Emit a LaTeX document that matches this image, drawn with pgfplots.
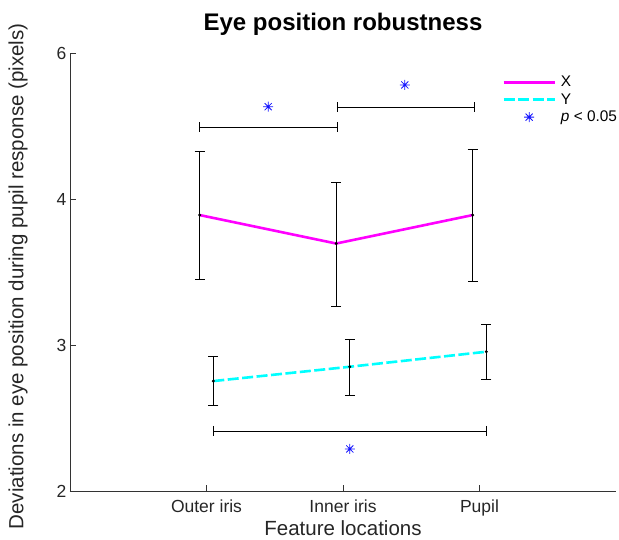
\documentclass[border=0pt]{standalone}
\usepackage{fontspec}
\setmainfont{Liberation Sans}
\usepackage{pgfplots}
\pgfplotsset{compat=1.18}
\definecolor{mag}{RGB}{255,0,255}
\definecolor{cy}{RGB}{0,255,255}
\definecolor{starblue}{RGB}{20,20,255}
\pgfdeclareplotmark{mstar}{%
 \pgfpathmoveto{\pgfqpoint{-\pgfplotmarksize}{0pt}}\pgfpathlineto{\pgfqpoint{\pgfplotmarksize}{0pt}}%
 \pgfpathmoveto{\pgfqpoint{0pt}{-\pgfplotmarksize}}\pgfpathlineto{\pgfqpoint{0pt}{\pgfplotmarksize}}%
 \pgfpathmoveto{\pgfqpoint{-0.7071\pgfplotmarksize}{-0.7071\pgfplotmarksize}}\pgfpathlineto{\pgfqpoint{0.7071\pgfplotmarksize}{0.7071\pgfplotmarksize}}%
 \pgfpathmoveto{\pgfqpoint{-0.7071\pgfplotmarksize}{0.7071\pgfplotmarksize}}\pgfpathlineto{\pgfqpoint{0.7071\pgfplotmarksize}{-0.7071\pgfplotmarksize}}%
 \pgfusepathqstroke}
\pgfplotsset{
  longline/.style={legend image code/.code={\draw[##1] (0pt,0pt) -- (51pt,0pt);}},
  midmark/.style={legend image code/.code={\draw[##1] plot coordinates {(25.5pt,0pt)};}},
}
\begin{document}
\begin{tikzpicture}
\begin{axis}[name=ax, at={(0,0)}, anchor=south west,
  scale only axis, width=546pt, height=438pt,
  xmin=0, xmax=4, ymin=2, ymax=5, clip=false,
  axis x line*=bottom, axis y line*=left,
  axis line style={black!80, line width=0.6pt},
  tick style={black!80, line width=0.6pt},
  tick align=inside, major tick length=6pt,
  xtick={1,2,3}, xticklabels={Outer iris,Inner iris,Pupil},
  ytick={2,3,4,5}, yticklabels={2,3,4,6},
  ticklabel style={font=\fontsize{17.5}{20}\selectfont, text=black!85},
  xticklabel style={yshift=-5pt},
  title={Eye position robustness},
  title style={font=\bfseries\fontsize{24}{28}\selectfont, at={(axis description cs:0.5,1.0525)}, anchor=center},
  xlabel={Feature locations},
  xlabel style={font=\fontsize{20.5}{24}\selectfont, text=black!85, at={(axis description cs:0.5,-0.0845)}, anchor=center},
  ylabel={Deviations in eye position during pupil response (pixels)},
  ylabel style={font=\fontsize{20.5}{24}\selectfont, text=black!85, at={(axis description cs:-0.095,0.49)}, anchor=center},
  legend style={at={(axis description cs:0.7915,0.952)}, anchor=north west, draw=none, fill=none, inner sep=0pt, row sep=1.3pt,
    font=\fontsize{15.4}{18}\selectfont, nodes={inner sep=2pt},
    /tikz/every odd column/.append style={column sep=3pt}},
  legend cell align=left,
]
% X line
\addplot[mag, line width=2.6pt, longline]
  coordinates {(0.95,3.890) (1.95,3.695) (2.95,3.890)};
\addlegendentry{X}
% Y line
\addplot[cy, line width=2.6pt, dash pattern=on 11pt off 3.5pt, longline]
  coordinates {(1.05,2.753) (2.05,2.851) (3.05,2.954)};
\addlegendentry{Y}
% significance stars
\addplot[only marks, starblue, mark=mstar, mark size=5pt, line width=0.8pt, midmark]
  coordinates {(1.452,4.632) (2.453,4.781) (2.05,2.288)};
\addlegendentry{\textit{p} < 0.05}
% error bars X
\addplot[forget plot, only marks, black, mark=*, mark size=1.3pt,
  error bars/.cd, y dir=both, y explicit,
  error bar style={black, line width=0.7pt},
  error mark options={rotate=90, mark size=5pt, black, line width=0.7pt}]
  coordinates {
  (0.95,3.890) += (0,0.439) -= (0,0.440)
  (1.95,3.695) += (0,0.417) -= (0,0.428)
  (2.95,3.890) += (0,0.452) -= (0,0.456)
  };
% error bars Y
\addplot[forget plot, only marks, black, mark=*, mark size=1.3pt,
  error bars/.cd, y dir=both, y explicit,
  error bar style={black, line width=0.7pt},
  error mark options={rotate=90, mark size=5pt, black, line width=0.7pt}]
  coordinates {
  (1.05,2.753) += (0,0.167) -= (0,0.164)
  (2.05,2.851) += (0,0.190) -= (0,0.193)
  (3.05,2.954) += (0,0.185) -= (0,0.187)
  };
% brackets
\addplot[forget plot, black, line width=0.7pt, mark=|, mark size=5pt]
  coordinates {(0.949,4.493) (1.955,4.493)};
\addplot[forget plot, black, line width=0.7pt, mark=|, mark size=5pt]
  coordinates {(1.955,4.630) (2.960,4.630)};
\addplot[forget plot, black, line width=0.7pt, mark=|, mark size=5pt]
  coordinates {(1.048,2.411) (3.051,2.411)};
\end{axis}
\pgfresetboundingbox
\path[use as bounding box] ([shift={(-70pt,-48pt)}]ax.south west) rectangle ([shift={(549pt,491pt)}]ax.south west);
\end{tikzpicture}
\end{document}
